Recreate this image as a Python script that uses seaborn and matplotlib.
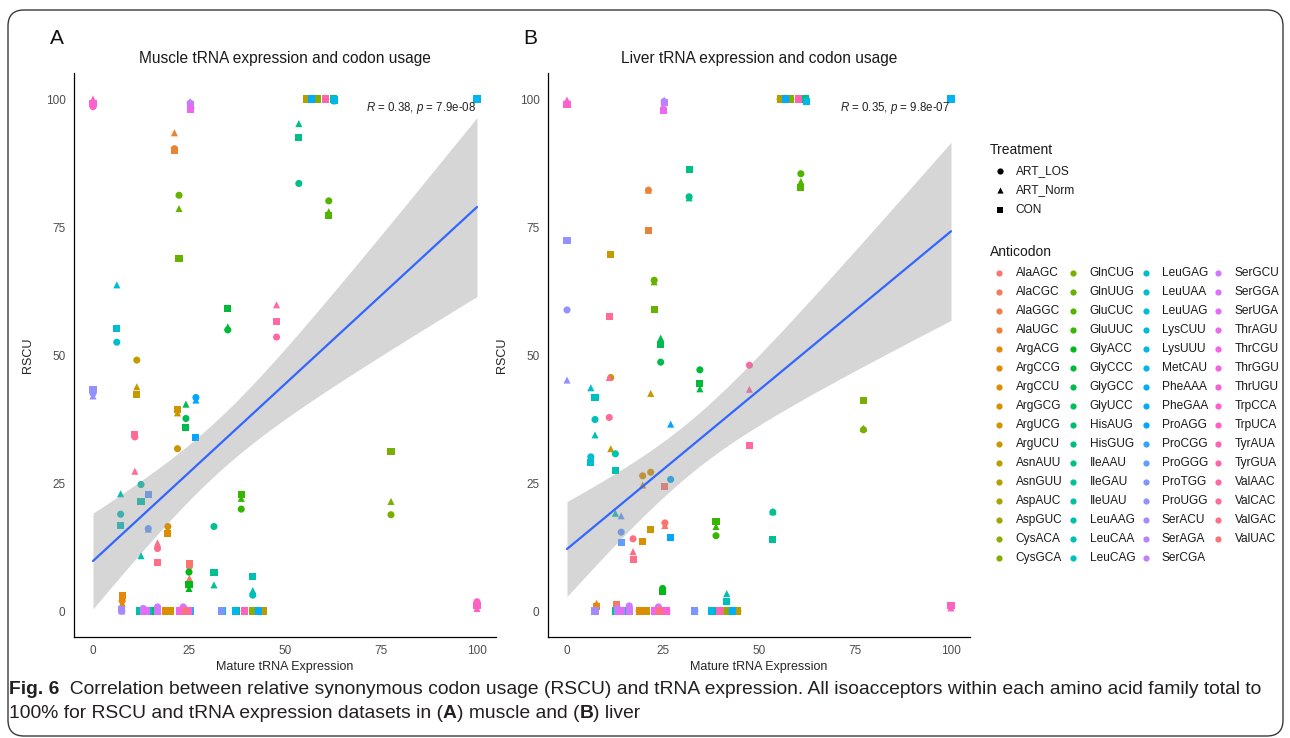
import numpy as np
import pandas as pd
import matplotlib
matplotlib.use("Agg")
import matplotlib.pyplot as plt
import seaborn as sns
from matplotlib.patches import FancyBboxPatch

# ---------------- data ----------------
anticodons = [
    "AlaAGC", "AlaCGC", "AlaGGC", "AlaUGC", "ArgACG", "ArgCCG", "ArgCCU", "ArgGCG",
    "ArgUCG", "ArgUCU", "AsnAUU", "AsnGUU", "AspAUC", "AspGUC", "CysACA", "CysGCA",
    "GlnCUG", "GlnUUG", "GluCUC", "GluUUC", "GlyACC", "GlyCCC", "GlyGCC", "GlyUCC",
    "HisAUG", "HisGUG", "IleAAU", "IleGAU", "IleUAU", "LeuAAG", "LeuCAA", "LeuCAG",
    "LeuGAG", "LeuUAA", "LeuUAG", "LysCUU", "LysUUU", "MetCAU", "PheAAA", "PheGAA",
    "ProAGG", "ProCGG", "ProGGG", "ProTGG", "ProUGG", "SerACU", "SerAGA", "SerCGA",
    "SerGCU", "SerGGA", "SerUGA", "ThrAGU", "ThrCGU", "ThrGGU", "ThrUGU", "TrpCCA",
    "TrpUCA", "TyrAUA", "TyrGUA", "ValAAC", "ValCAC", "ValGAC", "ValUAC",
]
treatments = ["ART_LOS", "ART_Norm", "CON"]

# Muscle: mature tRNA expression (x) and RSCU per treatment
muscle_expr = [25.1, 24.6, 20.0, 21.2, 7.6, 19.0, 19.5, 20.2,
               22.0, 11.4, 44.4, 55.6, 42.0, 58.0, 41.5, 58.5,
               77.6, 22.4, 61.4, 38.6, 25.0, 35.1, 24.2, 15.6,
               37.4, 62.6, 53.6, 31.5, 12.2, 12.5, 41.6, 7.2,
               14.5, 6.2, 33.6, 62.8, 37.2, 100.0, 43.0, 57.0,
               26.8, 25.3, 14.4, 33.5, 0.0, 7.5, 25.3, 13.1,
               16.8, 23.5, 13.8, 25.5, 22.5, 24.5, 24.8, 0.0,
               100.0, 39.4, 60.6, 47.8, 10.9, 16.8, 24.2]
muscle_los = [8.7, 0, 0, 90.3, 2.0, 0, 16.5, 0,
              31.7, 49.0, 0, 100, 0, 100, 0, 100,
              18.8, 81.2, 80.1, 19.9, 7.6, 54.9, 37.6, 0,
              0, 100, 83.5, 16.5, 0, 24.7, 3.1, 18.9,
              0, 52.5, 0, 99.6, 0, 100, 0, 100,
              41.7, 0, 16.1, 0, 42.5, 0, 99.2, 0.5,
              0.8, 0.8, 0, 98.3, 0, 0, 0, 98.5,
              1.8, 0, 100, 53.5, 34.0, 12.2, 0]
muscle_norm = [6.4, 0, 0, 93.4, 1.5, 0, 16.0, 0,
               38.7, 43.8, 0, 100, 0, 100, 0, 100,
               21.4, 78.6, 78.0, 22.0, 4.4, 55.5, 40.4, 0,
               0, 100, 95.2, 5.1, 0, 10.8, 4.0, 22.9,
               0, 63.7, 0, 100, 0, 100, 0, 100,
               41.2, 0, 16.0, 0, 42.0, 0, 99.5, 0.2,
               0.3, 0, 0, 98.8, 0, 0, 0, 100,
               0.5, 0, 100, 59.8, 27.3, 13.3, 0]
muscle_con = [9.3, 0, 0, 90.0, 3.0, 0, 15.2, 0,
              39.4, 42.3, 0, 100, 0, 100, 0, 100,
              31.2, 68.8, 77.2, 22.8, 5.1, 59.0, 35.9, 0,
              0, 100, 92.4, 7.5, 0, 21.4, 6.7, 16.7,
              0, 55.2, 0, 99.8, 0, 100, 0, 100,
              33.9, 0, 22.7, 0, 43.3, 0.3, 99.0, 0,
              0, 0.3, 0, 98.0, 0, 0, 0, 99.2,
              1.0, 0, 100, 56.6, 34.4, 9.4, 0]

# Liver
liver_expr = [25.5, 12.8, 40.5, 21.2, 7.7, 18.8, 19.7, 20.6,
              21.8, 11.4, 44.5, 55.5, 42.0, 58.0, 41.8, 58.2,
              77.2, 22.7, 60.9, 38.8, 24.9, 34.6, 24.4, 15.7,
              37.8, 62.2, 31.8, 53.6, 12.6, 12.6, 41.6, 7.3,
              14.5, 6.2, 16.0, 62.4, 37.6, 100.0, 43.0, 57.0,
              27.0, 25.3, 14.1, 33.3, 0.0, 7.3, 25.3, 13.2,
              16.2, 23.8, 14.2, 25.1, 22.8, 24.3, 26.0, 0.0,
              100.0, 39.8, 60.2, 47.5, 11.0, 17.2, 24.0]
liver_los = [17.2, 0.5, 0, 82.2, 1.0, 0, 26.4, 0,
             27.1, 45.6, 0, 100, 0, 100, 0, 100,
             35.4, 64.6, 85.4, 14.7, 4.4, 47.1, 48.6, 0,
             0, 100, 80.9, 19.3, 0, 30.7, 1.8, 37.4,
             0, 30.1, 0, 99.5, 0, 100, 0, 100,
             25.7, 0, 15.4, 0, 58.8, 0, 99.5, 0.5,
             1.0, 0.8, 0, 98.0, 0, 0, 0, 99.2,
             0.8, 0, 100, 48.0, 37.8, 14.1, 0]
liver_norm = [16.7, 0.3, 0, 82.2, 1.5, 0, 24.6, 0,
              42.5, 31.7, 0, 100, 0, 100, 0, 100,
              35.7, 64.3, 83.9, 16.5, 4.0, 43.4, 53.3, 0,
              0, 100, 80.7, 19.4, 0, 19.1, 3.4, 34.4,
              0, 43.6, 0, 100, 0, 100, 0, 100,
              36.5, 0, 18.6, 0, 45.1, 0, 99.8, 0.3,
              0.3, 0, 0, 98.5, 0, 0, 0, 99.8,
              0.6, 0, 100, 43.3, 45.6, 11.6, 0]
liver_con = [24.3, 1.2, 0, 74.3, 0.9, 0, 13.5, 0,
             15.9, 69.7, 0, 100, 0, 100, 0, 100,
             41.2, 58.8, 82.7, 17.4, 3.8, 44.5, 52.0, 0,
             0, 100, 86.3, 13.9, 0, 27.5, 1.8, 41.7,
             0, 29.0, 0, 99.5, 0, 100, 0, 100,
             14.4, 0, 13.3, 0, 72.3, 0, 99.3, 0,
             0, 0.3, 0, 97.8, 0, 0, 0, 99.0,
             1.0, 0, 100, 32.4, 57.6, 10.1, 0]

x_ticks = [0, 25, 50, 75, 100]
y_ticks = [0, 25, 50, 75, 100]
muscle_label = r"$\it{R}$ = 0.38, $\it{p}$ = 7.9e-08"
liver_label = r"$\it{R}$ = 0.35, $\it{p}$ = 9.8e-07"


# ---------------- helpers ----------------
def gg_hue(n, c=100.0, l=65.0):
    hues = np.linspace(15, 375, n + 1)[:-1]
    Xn, Yn, Zn = 95.047, 100.0, 108.883
    den = Xn + 15 * Yn + 3 * Zn
    un, vn = 4 * Xn / den, 9 * Yn / den
    Y = Yn * ((l + 16) / 116) ** 3
    M = np.array([[3.240479, -1.537150, -0.498535],
                  [-0.969256, 1.875992, 0.041556],
                  [0.055648, -0.204043, 1.057311]])
    out = []
    for h in hues:
        hr = np.deg2rad(h)
        U, V = c * np.cos(hr), c * np.sin(hr)
        u = U / (13 * l) + un
        v = V / (13 * l) + vn
        X = 9.0 * Y * u / (4 * v)
        Z = -X / 3 - 5 * Y + 3 * Y / v
        rgb = M @ np.array([X, Y, Z]) / 100.0
        rgb = np.where(rgb <= 0.0031308, 12.92 * rgb,
                       1.055 * np.clip(rgb, 0, None) ** (1 / 2.4) - 0.055)
        out.append(tuple(np.clip(rgb, 0, 1)))
    return out


palette = dict(zip(anticodons, gg_hue(len(anticodons))))


def long_df(expr, los, norm, con):
    rows = []
    for i, a in enumerate(anticodons):
        for t, vals in zip(treatments, (los, norm, con)):
            rows.append((a, t, expr[i], vals[i]))
    return pd.DataFrame(rows, columns=["Anticodon", "Treatment", "expr", "RSCU"])


def t975(dof):
    try:
        from scipy import stats
        return float(stats.t.ppf(0.975, dof))
    except Exception:
        z = 1.959964
        g1 = (z ** 3 + z) / 4
        g2 = (5 * z ** 5 + 16 * z ** 3 + 3 * z) / 96
        return z + g1 / dof + g2 / dof ** 2


sns.set_style("white")
plt.rcParams["font.family"] = ["Liberation Sans", "DejaVu Sans"]
plt.rcParams["mathtext.fontset"] = "custom"
plt.rcParams["mathtext.it"] = "Liberation Sans:italic"
plt.rcParams["mathtext.rm"] = "Liberation Sans"

W, H = 1290, 738
fig = plt.figure(figsize=(W / 100, H / 100), dpi=100)
bg = fig.add_axes([0, 0, 1, 1], zorder=0)
bg.set_xlim(0, W)
bg.set_ylim(H, 0)
bg.axis("off")

bg.add_patch(FancyBboxPatch((8, 10), 1275, 726,
                            boxstyle="round,pad=0,rounding_size=16",
                            fill=False, ec="#3a3a3a", lw=1.0))

markers = {"ART_LOS": "o", "ART_Norm": "^", "CON": "s"}


def panel(x0px, df, title, label):
    left = (x0px - 19.2) / W
    width = 422.4 / W
    bottom = 1 - 636.6 / H
    height = (636.6 - 73.4) / H
    ax = fig.add_axes([left, bottom, width, height], zorder=2)
    ax.patch.set_alpha(0)
    sns.scatterplot(data=df, x="expr", y="RSCU", hue="Anticodon", style="Treatment",
                    hue_order=anticodons, style_order=treatments, palette=palette,
                    markers=markers, s=26, linewidth=0, legend=False, ax=ax, zorder=2)
    # linear fit with analytic 95% confidence band (as geom_smooth(method = "lm"))
    x = df["expr"].to_numpy(float)
    y = df["RSCU"].to_numpy(float)
    n = len(x)
    b1, b0 = np.polyfit(x, y, 1)
    resid = y - (b0 + b1 * x)
    s = np.sqrt(np.sum(resid ** 2) / (n - 2))
    xg = np.linspace(x.min(), x.max(), 80)
    se = s * np.sqrt(1 / n + (xg - x.mean()) ** 2 / np.sum((x - x.mean()) ** 2))
    fit = b0 + b1 * xg
    tq = t975(n - 2)
    ax.fill_between(xg, fit - tq * se, fit + tq * se, color=(0.6, 0.6, 0.6),
                    alpha=0.4, linewidth=0, zorder=4)
    sns.regplot(data=df, x="expr", y="RSCU", scatter=False, ci=None,
                color="#3366FF", line_kws=dict(lw=1.6, zorder=5), ax=ax)
    ax.set_xlim(-5, 105)
    ax.set_ylim(-5, 105)
    ax.set_xticks(x_ticks)
    ax.set_yticks(y_ticks)
    for sp in ("top", "right"):
        ax.spines[sp].set_visible(False)
    for sp in ("left", "bottom"):
        ax.spines[sp].set_color("black")
        ax.spines[sp].set_linewidth(0.9)
    ax.tick_params(axis="both", length=3.5, width=0.8, color="#333333",
                   labelsize=8.5, labelcolor="#4D4D4D", pad=2.5, direction="out")
    ax.set_xlabel("Mature tRNA Expression", fontsize=9, labelpad=3)
    ax.set_ylabel("RSCU", fontsize=9, labelpad=8)
    ax.text(99.7, 98.2, label, ha="right", va="center", fontsize=8.3, color="#222222")
    bg.text(x0px + 192, 58, title, ha="center", va="center", fontsize=11.2, color="#1a1a1a")
    return ax


panel(93, long_df(muscle_expr, muscle_los, muscle_norm, muscle_con),
      "Muscle tRNA expression and codon usage", muscle_label)
panel(567, long_df(liver_expr, liver_los, liver_norm, liver_con),
      "Liver tRNA expression and codon usage", liver_label)

# ---------------- legends ----------------
bg.text(990, 150, "Treatment", fontsize=10, va="center", ha="left", color="#1a1a1a")
for i, t in enumerate(treatments):
    yy = 171 + i * 19.3
    bg.scatter([1000], [yy], marker=markers[t], s=20, color="black", linewidths=0)
    bg.text(1015.5, yy, t, fontsize=8.6, va="center", ha="left", color="#1a1a1a")

bg.text(990, 251.5, "Anticodon", fontsize=10, va="center", ha="left", color="#1a1a1a")
col_x = [999.3, 1073.3, 1145.7, 1218.3]
for k, a in enumerate(anticodons):
    c, r = divmod(k, 16)
    yy = 273.3 + r * 18.96
    bg.scatter([col_x[c]], [yy], marker="o", s=20, color=palette[a], linewidths=0)
    bg.text(col_x[c] + 16.3, yy, a, fontsize=8.6, va="center", ha="left", color="#1a1a1a")

# ---------------- panel letters & caption ----------------
cap_family = ["Liberation Sans Narrow", "Liberation Sans", "DejaVu Sans"]
bg.text(57, 38, "A", fontsize=15, family=cap_family, ha="center", va="center", color="#111111")
bg.text(530, 38, "B", fontsize=15, family=cap_family, ha="center", va="center", color="#111111")

renderer = fig.canvas.get_renderer()


def run_width(runs, size):
    total = 0
    for txt, wt in runs:
        t = bg.text(0, 0, txt, fontsize=size, fontweight=wt, family=cap_family)
        total += t.get_window_extent(renderer=renderer).width
        t.remove()
    return total


def draw_runs(x, y, runs, size):
    for txt, wt in runs:
        t = bg.text(x, y, txt, fontsize=size, fontweight=wt, family=cap_family,
                    ha="left", va="center", color="#231F20")
        x += t.get_window_extent(renderer=renderer).width


line1 = [("Fig. 6", "bold"),
         ("  Correlation between relative synonymous codon usage (RSCU) and tRNA expression. "
          "All isoacceptors within each amino acid family total to", "normal")]
line2 = [("100% for RSCU and tRNA expression datasets in (", "normal"), ("A", "bold"),
         (") muscle and (", "normal"), ("B", "bold"), (") liver", "normal")]
size = 12 * 1256 / run_width(line1, 12)
draw_runs(9, 690, line1, size)
draw_runs(9, 714, line2, size)

fig.savefig("out.png", dpi=100)
